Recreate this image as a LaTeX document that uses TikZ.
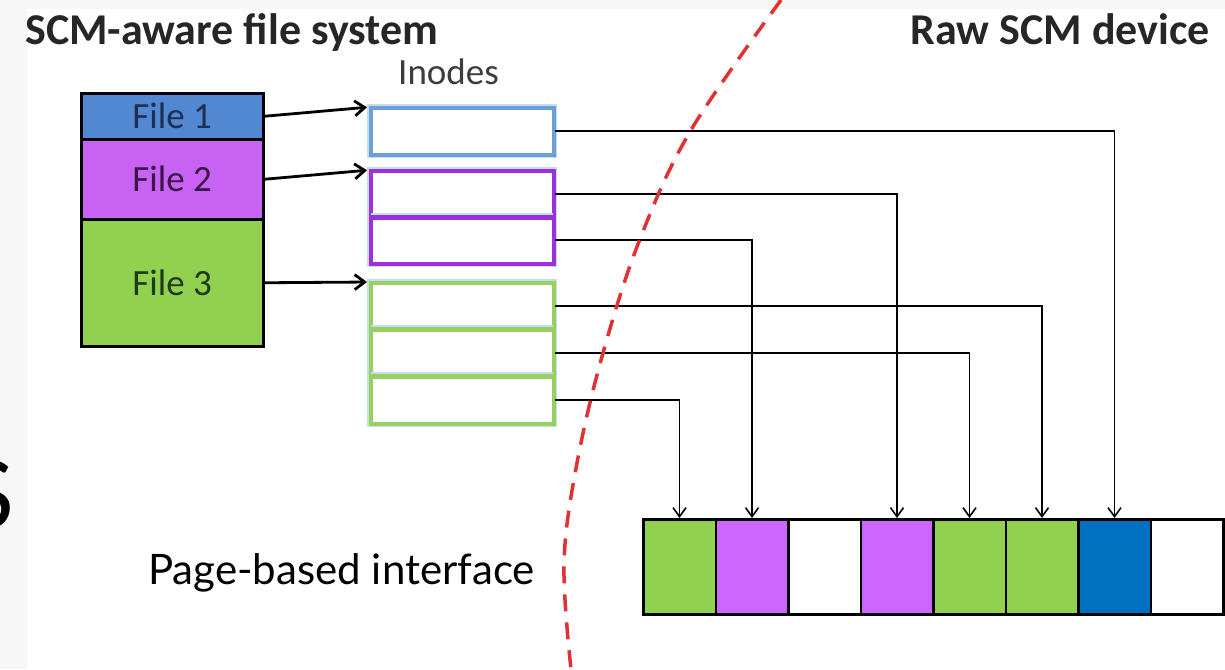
\documentclass[tikz,border=0pt]{standalone}
\usepackage{fontspec}
\setmainfont{Carlito}
\newfontfamily\gillfont{Lato}
\usetikzlibrary{arrows.meta}
\definecolor{bggray}{HTML}{F7F7F7}
\definecolor{headtext}{HTML}{262626}
\definecolor{fblue}{HTML}{5288D2}
\definecolor{fpurple}{HTML}{C862F2}
\definecolor{fgreen}{HTML}{92D050}
\definecolor{pblue}{HTML}{0070C0}
\definecolor{ppurple}{HTML}{CC66FF}
\definecolor{iblue}{HTML}{6A9FD8}
\definecolor{ipurple}{HTML}{9A30DE}
\definecolor{igreen}{HTML}{98D060}
\definecolor{glow}{HTML}{C4DCF2}
\definecolor{redline}{HTML}{E03232}
\definecolor{tblue}{HTML}{1E2F52}
\definecolor{tpurple}{HTML}{3A1648}
\definecolor{tgreen}{HTML}{1E3A16}
\tikzset{
  filebox/.style={draw=black, line width=2.5pt, minimum width=182pt, inner sep=0pt, anchor=north west, font=\fontsize{37}{40}\selectfont},
  inodebox/.style={draw=#1, fill=white, line width=2.5pt, minimum width=182pt, inner sep=0pt, anchor=north west,
    preaction={draw=glow, line width=8pt}},
  pagebox/.style={draw=black, fill=#1, line width=2.5pt, minimum width=72.5pt, minimum height=95pt, inner sep=0pt, anchor=north west},
  header/.style={anchor=base west, inner sep=0pt, text=headtext, font=\fontsize{44}{48}\bfseries\selectfont},
  farrow/.style={line width=2.8pt, -{Straight Barb[length=10pt,width=15pt,line width=2.8pt]}, shorten >=3pt},
  conn/.style={line width=1.8pt, -{Straight Barb[length=9pt,width=13pt,line width=1.6pt]}},
}
\begin{document}
\begin{tikzpicture}[x=1pt,y=-1pt]
\useasboundingbox (0,0) rectangle (1225,669);
\fill[bggray] (0,0) rectangle (1225,669);
\fill[white] (27,9) rectangle (1225,669);
% big partial letter at left
\node[anchor=base east, inner sep=0pt, font=\gillfont\fontsize{94}{100}\selectfont] (bigS) at (15,528) {S};
% headers
\node[header] (hfs) at (25,45) {SCM-aware file system};
\node[header, anchor=base east] (hdev) at (1210,45) {Raw SCM device};
\node[anchor=base west, inner sep=0pt, text=headtext!90, font=\fontsize{37}{40}\selectfont] (hino) at (398,84) {Inodes};
% files
\node[filebox, fill=fblue, minimum height=46pt, text=tblue] (f1) at (80,92) {File 1};
\node[filebox, fill=fpurple, minimum height=80pt, text=tpurple] (f2) at (80,138) {File 2};
\node[filebox, fill=fgreen, minimum height=127pt, text=tgreen] (f3) at (80,218) {File 3};
% inodes
\node[inodebox=iblue, minimum height=46pt] (i1) at (370,107) {};
\node[inodebox=ipurple, minimum height=46pt] (i2) at (370,170) {};
\node[inodebox=ipurple, minimum height=46pt] (i3) at (370,216) {};
\node[inodebox=igreen, minimum height=46pt] (i4) at (370,282) {};
\node[inodebox=igreen, minimum height=47pt] (i5) at (370,328) {};
\node[inodebox=igreen, minimum height=47pt] (i6) at (370,375) {};
% redraw inode borders on top of glows
\foreach \n/\c in {i1/iblue,i2/ipurple,i3/ipurple,i4/igreen,i5/igreen,i6/igreen}{
  \draw[\c, line width=2.5pt] (\n.north west) rectangle (\n.south east);
}
% pages
\node[pagebox=fgreen] (p1) at (642,518) {};
\node[pagebox=ppurple] (p2) at (714.5,518) {};
\node[pagebox=white] (p3) at (787,518) {};
\node[pagebox=ppurple] (p4) at (859.5,518) {};
\node[pagebox=fgreen] (p5) at (932,518) {};
\node[pagebox=fgreen] (p6) at (1004.5,518) {};
\node[pagebox=pblue] (p7) at (1077,518) {};
\node[pagebox=white] (p8) at (1149.5,518) {};
% file arrows
\draw[farrow] (f1.east) -- (i1.north west);
\draw[farrow] (f2.east) -- (i2.north west);
\draw[farrow] (f3.east) -- (i4.north west);
% connectors
\draw[conn] (i1.east) -| (p7.north);
\draw[conn] (i2.east) -| (p4.north);
\draw[conn] (i3.east) -| (p2.north);
\draw[conn] (i4.east) -| (p6.north);
\draw[conn] (i5.east) -| (p5.north);
\draw[conn] (i6.east) -| (p1.north);
% label
\node[anchor=base west, inner sep=0pt, font=\gillfont\fontsize{42}{46}\selectfont] (pbi) at (148,584) {Page-based interface};
% red dashed boundary
\draw[redline, line width=3.5pt, dash pattern=on 17pt off 11pt] plot[smooth, tension=0.6] coordinates {(781,0) (691,130) (640,239) (603,353) (577,463) (564,563) (571,669)};
\end{tikzpicture}
\end{document}
